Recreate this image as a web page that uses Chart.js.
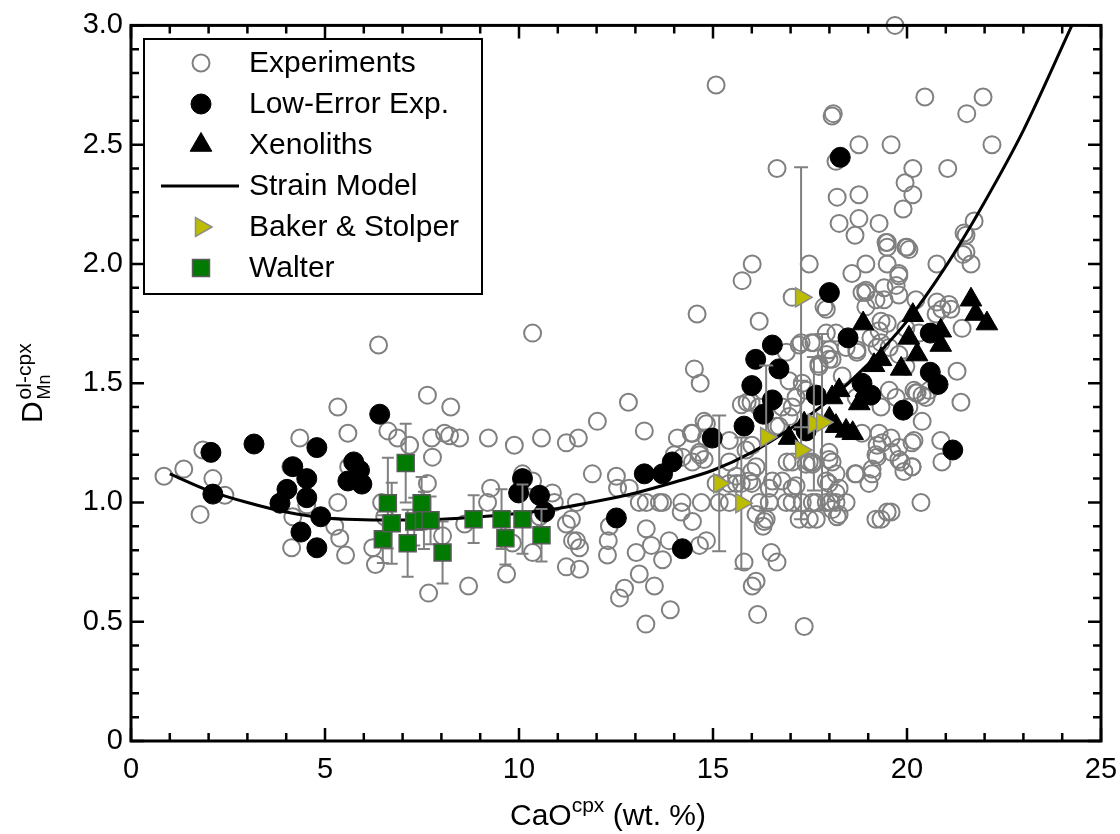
<!DOCTYPE html>
<html lang="en">
<head>
<meta charset="UTF-8">
<title>D Mn ol-cpx vs CaO cpx</title>
<script src="https://cdn.jsdelivr.net/npm/chart.js"></script>
<style>
  html, body { margin: 0; padding: 0; background: #fff; }
  #wrap { width: 1120px; height: 834px; }
</style>
</head>
<body>
<div id="wrap"><canvas id="chart" width="1120" height="834"></canvas></div>
<script>
// --- data: [CaO cpx (wt.%), D Mn ol-cpx] ---
const experiments = [
  [0.85,1.11],[1.36,1.14],[1.78,0.95],[1.85,1.22],[2.11,1.10],[2.42,1.03],
  [4.12,1.15],[4.35,1.27],[4.17,0.94],[4.14,0.81],[4.53,0.99],
  [5.33,1.40],[5.59,1.29],[5.61,1.15],[5.33,1.00],[5.25,0.90],[5.38,0.85],[5.53,0.78],
  [6.38,1.66],[6.62,1.30],[6.87,1.27],[7.18,1.24],[7.64,1.45],[8.24,1.40],[7.75,1.27],
  [7.77,1.19],[8.08,1.29],[8.21,1.28],[8.47,1.27],[9.21,1.27],[9.88,1.24],[10.58,1.27],
  [11.22,1.25],[11.53,1.27],[10.35,1.71],
  [7.64,1.08],[6.46,1.00],[6.54,0.94],[6.23,0.81],[6.30,0.74],[7.67,0.62],[8.70,0.65],
  [8.03,0.86],[8.60,0.91],[9.19,1.00],[9.27,1.06],[9.68,0.70],[9.83,0.83],[10.09,1.12],
  [10.35,1.09],[10.35,0.79],[10.53,0.94],[10.86,1.04],[10.91,1.00],[11.22,0.73],
  [11.35,0.93],[11.48,0.84],[11.48,1.00],
  [12.82,1.42],[12.02,1.34],[13.23,1.30],[11.89,1.12],[12.51,1.11],[14.08,1.27],
  [14.44,1.29],[14.77,1.34],[14.77,1.18],[14.00,1.20],[12.54,1.06],[12.84,1.06],
  [13.10,1.00],[13.28,1.00],[13.62,1.00],[13.70,1.00],[14.20,1.00],[14.70,1.00],
  [15.16,1.00],[15.42,1.00],[16.19,1.00],[16.45,1.00],[16.89,1.00],[17.04,1.00],
  [17.56,1.00],[17.92,1.00],[18.17,1.00],
  [11.22,0.91],[11.38,0.84],[11.56,0.81],[11.56,0.72],[12.33,0.90],[12.30,0.84],
  [12.28,0.78],[13.02,0.79],[13.28,0.89],[13.41,0.82],[13.70,0.76],[13.10,0.70],
  [13.49,0.65],[12.72,0.64],[12.59,0.60],[13.27,0.49],[13.90,0.55],
  [14.18,0.96],[14.47,0.92],[14.83,0.84],[14.65,0.82],[13.87,0.84],
  [14.52,1.56],[14.67,1.50],[14.59,1.79],[15.08,2.75],
  [16.11,0.95],[16.32,0.92],[16.29,0.90],[15.80,0.75],[16.50,0.79],[16.65,0.75],
  [16.01,0.65],[16.11,0.67],[16.15,0.53],[17.35,0.48],
  [15.08,1.08],[15.42,1.08],[15.60,1.08],[15.73,1.08],[16.00,1.08],[16.00,1.13],
  [16.53,1.09],[17.04,1.06],[17.40,1.16],[17.56,1.16],[17.04,1.17],[16.63,1.32],
  [17.04,1.40],[17.40,1.47],[17.73,1.58],[18.00,1.64],[17.22,1.66],[16.19,1.40],
  [15.88,1.42],[14.83,1.33],[15.85,1.22],[16.11,1.15],[15.42,1.26],[14.21,1.19],[14.65,1.20],
  [18.07,0.97],[18.17,1.12],[18.25,1.06],[17.22,0.93],[17.48,0.93],
  [18.07,2.62],[18.17,2.43],[16.65,2.40],[18.20,2.28],[18.25,2.17],[16.01,2.00],
  [15.75,1.93],[17.48,2.00],[16.19,1.76],[17.04,1.86],[17.92,1.81],[17.27,1.67],
  [17.60,1.67],[17.92,1.71],[18.17,1.71],[16.89,1.63],
  [14.47,1.29],[16.96,1.51],[17.30,1.50],[17.99,1.60],[17.73,1.57],[18.71,1.64],
  [19.23,1.65],[17.14,1.44],[15.73,1.41],[15.98,1.42],[16.78,1.40],[16.96,1.36],
  [16.70,1.32],[14.83,1.27],[14.65,1.21],[14.47,1.17],[15.42,1.17],[15.60,1.11],
  [16.00,1.24],[16.91,1.17],[17.48,1.17],[17.99,1.21],[18.07,1.17],[18.69,1.12],
  [19.02,1.08],[19.20,1.20],[19.36,1.25],[19.28,1.29],[19.49,0.96],[19.20,0.93],
  [18.20,0.94],[17.66,0.93],[16.37,0.93],[18.17,1.04],[17.92,1.09],[17.14,1.07],
  [16.78,1.09],[15.93,1.09],[16.45,1.06],[18.84,1.88],[19.20,1.85],
  [19.69,3.00],[20.46,2.70],[21.96,2.70],[18.10,2.63],[21.54,2.63],[22.19,2.50],
  [18.76,2.50],[19.59,2.50],[20.15,2.40],[21.05,2.40],[19.95,2.34],[20.15,2.29],
  [19.90,2.23],[18.76,2.29],[18.76,2.19],[19.28,2.17],[18.66,2.12],[19.49,2.09],
  [19.49,2.07],[19.97,2.07],[20.05,2.06],[18.94,2.00],[19.49,2.00],[18.58,1.96],
  [19.79,1.96],[19.72,1.91],[18.94,1.88],[19.41,1.90],[19.41,1.85],[19.79,1.87],
  [20.23,1.85],[20.77,2.00],[21.47,2.13],[21.73,2.18],[21.52,2.05],[21.65,2.00],
  [20.77,1.84],[21.08,1.83],[17.86,1.82],
  [21.42,1.73],[21.13,1.81],[20.90,1.81],[20.75,1.79],[21.29,1.55],[21.39,1.42],
  [20.87,1.26],[20.90,1.17],[20.36,1.00],[19.59,0.96],[19.33,0.93],
  [18.66,1.12],[19.10,1.12],[19.23,1.19],[19.23,1.24],[19.59,1.27],[19.79,1.23],
  [19.85,1.17],[19.92,1.13],[20.13,1.15],[20.18,1.26],[20.39,1.34],[20.23,1.46],
  [20.39,1.45],[20.57,1.47],[20.18,1.47],[20.05,1.40],[19.72,1.44],[19.33,1.40],
  [18.69,1.44],[18.84,1.29],[18.43,1.00],[18.04,1.00],[17.66,1.00],[17.30,1.00],
  [18.25,0.95],[17.99,1.08],[17.99,1.18],[17.56,1.17],
  [17.53,1.67],[18.33,1.53],[17.92,1.62],[18.07,1.60],[19.33,1.76],[19.49,1.75],
  [19.07,1.69],[19.33,1.67],[19.54,1.65],[19.79,1.62],[19.97,1.57],[20.31,1.71],
  [18.71,1.63],[18.43,1.65],[21.44,2.04],[21.52,2.12],[19.46,2.09],[20.00,2.07],
  [19.79,1.95],[18.94,1.89],[19.97,1.73],[19.61,1.21],[19.79,1.18],[20.13,1.25],
  [20.13,1.15],[19.10,1.14],[19.54,1.47],[20.26,1.46],[20.49,1.44],[19.28,1.72],[18.94,1.82]
];

const lowError = [
  [2.06,1.21],[3.17,1.245],[2.11,1.035],[4.17,1.15],[4.53,1.10],[4.02,1.055],
  [3.84,0.997],[4.53,1.02],[4.79,1.23],[4.89,0.94],[4.38,0.876],[4.79,0.81],
  [6.41,1.37],[5.74,1.17],[5.89,1.135],[5.59,1.09],[5.95,1.077],
  [10.09,1.10],[9.99,1.04],[10.53,1.03],[10.66,0.96],
  [12.51,0.935],[14.21,0.806],[13.23,1.12],[13.70,1.12],[13.95,1.17],[14.98,1.27],
  [15.80,1.32],[16.00,1.49],[16.30,1.37],[16.53,1.43],[16.10,1.60],[16.53,1.66],
  [16.70,1.56],[18.00,1.88],[18.28,2.447],[18.48,1.69],[17.66,1.45],[18.84,1.50],
  [19.07,1.45],[19.90,1.387],[20.60,1.546],[20.80,1.495],[20.60,1.71],[21.18,1.22],
  [17.40,1.30]
];

const xenoliths = [
  [16.96,1.27],[17.35,1.33],[18.00,1.35],[18.17,1.32],[18.43,1.30],[18.60,1.29],
  [18.07,1.44],[18.25,1.47],[18.77,1.415],[18.94,1.47],[18.87,1.75],[19.15,1.575],
  [19.33,1.60],[19.85,1.56],[20.05,1.69],[20.15,1.785],[20.26,1.62],[20.87,1.72],
  [20.87,1.66],[21.65,1.85],[21.77,1.79],[22.06,1.75]
];

const modelX = [1.0, 2.0, 3.0, 4.0, 5.0, 6.0, 7.0, 8.0, 9.0, 10.0, 11.0, 12.0,
                13.0, 14.0, 15.0, 16.0, 17.0, 18.0, 19.0, 20.0, 21.0, 22.0, 23.0, 24.25];
const modelY = [1.12, 1.05, 1.00, 0.96, 0.935, 0.928, 0.926, 0.93, 0.94, 0.955, 0.975, 1.005,
                1.04, 1.085, 1.135, 1.21, 1.31, 1.43, 1.58, 1.76, 1.99, 2.26, 2.56, 3.0];

const bakerX   = [15.16, 15.73, 16.37, 17.27, 17.27, 17.60, 17.81];
const bakerY   = [1.08, 0.997, 1.274, 1.86, 1.22, 1.33, 1.336];
const bakerErr = [0.285, 0.275, 0.30, 0.545, 0.29, 0.28, 0.37];

const walterX   = [6.49, 6.62, 6.72, 7.08, 7.13, 7.30, 7.49, 7.55, 7.72, 8.03, 8.83, 9.55, 9.65, 10.09, 10.58];
const walterY   = [0.846, 0.997, 0.913, 1.165, 0.829, 0.92, 0.997, 0.925, 0.925, 0.79, 0.93, 0.93, 0.85, 0.93, 0.863];
const walterErr = [0.10, 0.19, 0.17, 0.165, 0.14, 0.10, 0.11, 0.12, 0.10, 0.13, 0.10, 0.125, 0.11, 0.145, 0.11];

const FONT = '"Liberation Sans", Arial, Helvetica, sans-serif';
const toXY = arr => arr.map(p => ({ x: p[0], y: p[1] }));
const zipXY = (xs, ys) => xs.map((x, i) => ({ x: x, y: ys[i] }));

// vertical error bars with caps, drawn under the markers of the dataset
const errorBars = {
  id: 'errorBars',
  beforeDatasetDraw(chart, args) {
    const ds = chart.data.datasets[args.index];
    if (!ds.errors) return;
    const { ctx, scales: { x, y } } = chart;
    ctx.save();
    ctx.strokeStyle = '#808080';
    ctx.lineWidth = 2;
    ds.data.forEach((p, i) => {
      const px = x.getPixelForValue(p.x);
      const top = y.getPixelForValue(p.y + ds.errors[i]);
      const bot = y.getPixelForValue(p.y - ds.errors[i]);
      const c = ds.capWidth / 2;
      ctx.beginPath();
      ctx.moveTo(px, top); ctx.lineTo(px, bot);
      ctx.moveTo(px - c, top); ctx.lineTo(px + c, top);
      ctx.moveTo(px - c, bot); ctx.lineTo(px + c, bot);
      ctx.stroke();
    });
    ctx.restore();
  }
};

// box frame with inward ticks on all four sides
const frameTicks = {
  id: 'frameTicks',
  afterDatasetsDraw(chart) {
    const { ctx, chartArea: a, scales: { x, y } } = chart;
    ctx.save();
    ctx.strokeStyle = '#000';
    ctx.lineWidth = 2.5;
    ctx.beginPath();
    for (let v = 0; v <= 25; v++) {
      const px = x.getPixelForValue(v);
      const len = v % 5 === 0 ? 13 : 8;
      ctx.moveTo(px, a.bottom); ctx.lineTo(px, a.bottom - len);
      ctx.moveTo(px, a.top); ctx.lineTo(px, a.top + len);
    }
    for (let i = 0; i <= 30; i++) {
      const py = y.getPixelForValue(i / 10);
      const len = i % 5 === 0 ? 13 : 8;
      ctx.moveTo(a.left, py); ctx.lineTo(a.left + len, py);
      ctx.moveTo(a.right, py); ctx.lineTo(a.right - len, py);
    }
    ctx.stroke();
    ctx.lineWidth = 3;
    ctx.strokeRect(a.left, a.top, a.width, a.height);
    ctx.restore();
  }
};

// boxed legend in the upper left of the plot
const boxLegend = {
  id: 'boxLegend',
  afterDraw(chart) {
    const ctx = chart.ctx;
    const box = { l: 144, t: 39, r: 482, b: 294 };
    ctx.save();
    ctx.fillStyle = '#fff';
    ctx.fillRect(box.l, box.t, box.r - box.l, box.b - box.t);
    ctx.strokeStyle = '#000';
    ctx.lineWidth = 2;
    ctx.strokeRect(box.l, box.t, box.r - box.l, box.b - box.t);
    ctx.font = '30px ' + FONT;
    ctx.textBaseline = 'middle';
    ctx.textAlign = 'left';
    chart.data.datasets.forEach((ds, i) => {
      const cy = 63 + i * 41;
      if (ds.type === 'line') {
        ctx.strokeStyle = ds.borderColor;
        ctx.lineWidth = ds.borderWidth;
        ctx.beginPath();
        ctx.moveTo(161, cy); ctx.lineTo(239, cy);
        ctx.stroke();
      } else {
        ctx.fillStyle = ds.backgroundColor;
        ctx.strokeStyle = ds.borderColor;
        ctx.lineWidth = ds.borderWidth;
        Chart.helpers.drawPoint(ctx, {
          pointStyle: ds.pointStyle, rotation: ds.rotation || 0,
          radius: ds.pointRadius, borderWidth: ds.borderWidth
        }, 201, cy);
      }
      ctx.fillStyle = '#000';
      ctx.fillText(ds.label, 249, cy + 1);
    });
    ctx.restore();
  }
};

// axis titles with super/subscripts
const axisTitles = {
  id: 'axisTitles',
  afterDraw(chart) {
    const { ctx, chartArea: a } = chart;
    ctx.save();
    ctx.fillStyle = '#000';
    ctx.textBaseline = 'alphabetic';
    ctx.textAlign = 'left';
    // x title
    const parts = [['CaO', 30, 0], ['cpx', 21, -13], [' (wt. %)', 30, 0]];
    let total = 0;
    parts.forEach(p => { ctx.font = p[1] + 'px ' + FONT; p.w = ctx.measureText(p[0]).width; total += p.w; });
    let cx = (a.left + a.right) / 2 - total / 2 - 8;
    parts.forEach(p => { ctx.font = p[1] + 'px ' + FONT; ctx.fillText(p[0], cx, 825 + p[2]); cx += p.w; });
    // y title, rotated
    ctx.translate(42, (a.top + a.bottom) / 2);
    ctx.rotate(-Math.PI / 2);
    ctx.font = '30px ' + FONT;
    const dW = ctx.measureText('D').width;
    ctx.font = '21px ' + FONT;
    const supW = ctx.measureText('ol-cpx').width;
    const start = -(dW + 2 + supW) / 2;
    ctx.font = '30px ' + FONT;
    ctx.fillText('D', start, 0);
    ctx.font = '21px ' + FONT;
    ctx.fillText('ol-cpx', start + dW + 2, -11);
    ctx.font = '18px ' + FONT;
    ctx.fillText('Mn', start + dW + 2, 8);
    ctx.restore();
  }
};

new Chart(document.getElementById('chart'), {
  type: 'scatter',
  data: {
    datasets: [{
      label: 'Experiments',
      data: toXY(experiments),
      pointStyle: 'circle',
      pointRadius: 8.5,
      backgroundColor: 'rgba(255,255,255,0)',
      borderColor: '#808080',
      borderWidth: 2,
      order: 6
    }, {
      label: 'Low-Error Exp.',
      data: toXY(lowError),
      pointStyle: 'circle',
      pointRadius: 10,
      backgroundColor: '#000',
      borderColor: '#000',
      borderWidth: 1,
      order: 4
    }, {
      label: 'Xenoliths',
      data: toXY(xenoliths),
      pointStyle: 'triangle',
      pointRadius: 12.5,
      backgroundColor: '#000',
      borderColor: '#000',
      borderWidth: 1,
      order: 3
    }, {
      type: 'line',
      label: 'Strain Model',
      data: zipXY(modelX, modelY),
      borderColor: '#000',
      borderWidth: 3,
      pointRadius: 0,
      fill: false,
      cubicInterpolationMode: 'monotone',
      order: 5
    }, {
      label: 'Baker & Stolper',
      data: zipXY(bakerX, bakerY),
      errors: bakerErr,
      capWidth: 14,
      pointStyle: 'triangle',
      rotation: 90,
      pointRadius: 11,
      backgroundColor: '#bcbc00',
      borderColor: '#8c8c8c',
      borderWidth: 1.5,
      order: 2
    }, {
      label: 'Walter',
      data: zipXY(walterX, walterY),
      errors: walterErr,
      capWidth: 12,
      pointStyle: 'rect',
      pointRadius: 12,
      backgroundColor: '#007a00',
      borderColor: '#5a5a5a',
      borderWidth: 1.5,
      order: 1
    }]
  },
  options: {
    responsive: false,
    devicePixelRatio: 1,
    animation: false,
    clip: false,
    layout: { autoPadding: false, padding: { top: 25, right: 19, left: 0, bottom: 0 } },
    plugins: { legend: { display: false }, tooltip: { enabled: false } },
    scales: {
      x: {
        type: 'linear', min: 0, max: 25,
        grid: { display: false, drawTicks: false },
        border: { display: false },
        // small padding keeps the last label from shrinking the plot; lineHeight pushes labels down
        ticks: { stepSize: 5, maxRotation: 0, padding: 2, color: '#000', font: { family: FONT, size: 29, lineHeight: 1.85 } },
        afterFit: s => { s.height = 93; }
      },
      y: {
        type: 'linear', min: 0, max: 3,
        grid: { display: false, drawTicks: false },
        border: { display: false },
        ticks: {
          stepSize: 0.5, padding: 8, color: '#000', font: { family: FONT, size: 29 },
          callback: v => v === 0 ? '0' : v.toFixed(1)
        },
        afterFit: s => { s.width = 131; }
      }
    }
  },
  plugins: [errorBars, frameTicks, boxLegend, axisTitles]
});
</script>
</body>
</html>
